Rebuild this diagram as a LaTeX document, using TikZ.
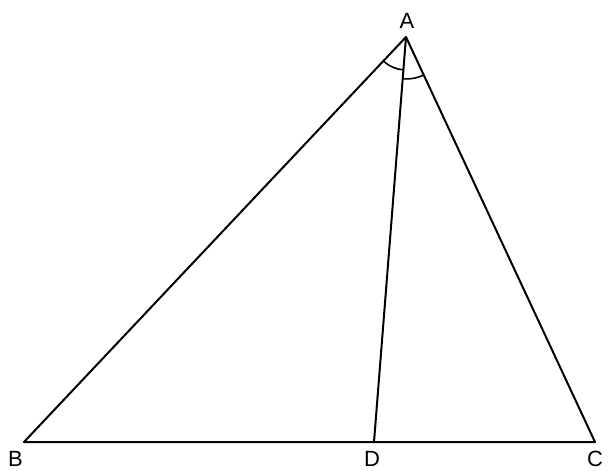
\documentclass[tikz,border=0pt]{standalone}
\usepackage{fontspec}
\setmainfont{Liberation Sans}
\usetikzlibrary{angles}
\begin{document}
\begin{tikzpicture}[x=1pt,y=-1pt,
  edge/.style={line width=2pt, line cap=round, line join=round},
  lbl/.style={font=\fontsize{22}{24}\selectfont, inner sep=0pt}]
\useasboundingbox (0,0) rectangle (611,471);
\coordinate (A) at (406,37);
\coordinate (B) at (24,442);
\coordinate (C) at (595,442);
\coordinate (D) at (374,442);
\draw[edge] (A) -- (B) -- (C) -- cycle;
\draw[edge] (A) -- (D);
\pic[draw, line width=1.6pt, angle radius=33pt] {angle = B--A--D};
\pic[draw, line width=1.6pt, angle radius=42pt] {angle = D--A--C};
\node[lbl] (la) at (407,20.5) {A};
\node[lbl] (lb) at (15.5,459) {B};
\node[lbl] (ld) at (372,459) {D};
\node[lbl] (lc) at (595,459) {C};
\end{tikzpicture}
\end{document}
